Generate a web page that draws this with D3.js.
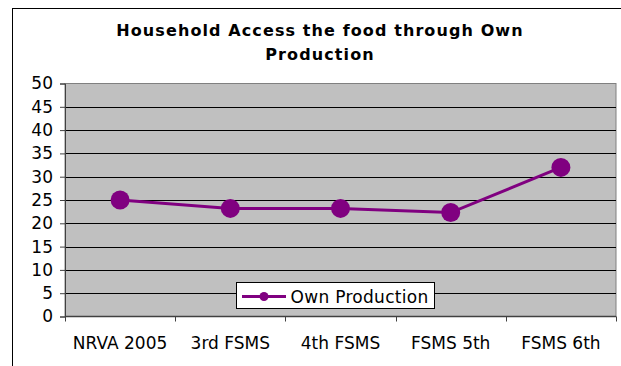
<!DOCTYPE html>
<html>
<head>
<meta charset="utf-8">
<script src="https://cdn.jsdelivr.net/npm/d3@7"></script>
<style>
  html, body { margin: 0; padding: 0; background: #fff; }
  svg { display: block; }
</style>
</head>
<body>
<svg id="chart" width="621" height="366"></svg>
<script>
// Survey rounds and share of households accessing food through own production
const categories = ["NRVA 2005", "3rd FSMS", "4th FSMS", "FSMS 5th", "FSMS 6th"];
const ownProduction = [25, 23.2, 23.2, 22.3, 32];
const yTicks = [0, 5, 10, 15, 20, 25, 30, 35, 40, 45, 50];
const titleLines = ["Household Access the food through Own", "Production"];
const seriesName = "Own Production";

const svg = d3.select("#chart");
const font = "Tahoma, 'DejaVu Sans', sans-serif";
const purple = "#800080";

// chart frame
svg.append("rect")
  .attr("x", 12.5).attr("y", 8.5)
  .attr("width", 640).attr("height", 400)
  .attr("fill", "#fff").attr("stroke", "#000").attr("stroke-width", 1);

const plot = { left: 65, right: 616, top: 83.5, bottom: 316.5 };

const x = d3.scaleBand().domain(categories).range([plot.left, plot.right]).padding(0);
const y = d3.scaleLinear().domain([0, 50]).range([plot.bottom, plot.top]);

// plot background
svg.append("rect")
  .attr("x", plot.left).attr("y", plot.top)
  .attr("width", plot.right - plot.left).attr("height", plot.bottom - plot.top)
  .attr("fill", "#c0c0c0").attr("stroke", "#808080").attr("stroke-width", 1);

// horizontal gridlines
svg.append("g").selectAll("line")
  .data(yTicks.filter(t => t > 0 && t < 50))
  .join("line")
  .attr("x1", plot.left).attr("x2", plot.right)
  .attr("y1", d => Math.round(y(d)) + 0.5).attr("y2", d => Math.round(y(d)) + 0.5)
  .attr("stroke", "#000").attr("stroke-width", 1);

// y axis
const yAxis = svg.append("g")
  .attr("transform", `translate(${plot.left},0)`)
  .call(d3.axisLeft(y).tickValues(yTicks).tickSize(5).tickPadding(7).tickFormat(d3.format("d")));
yAxis.select(".domain").attr("stroke", "#404040");
yAxis.selectAll(".tick line").attr("stroke", "#404040");
yAxis.selectAll("text")
  .attr("font-family", font).attr("font-size", 17).attr("fill", "#000");

// x axis with ticks at category boundaries
const xAxis = svg.append("g")
  .attr("transform", `translate(0,${plot.bottom})`);
xAxis.append("line")
  .attr("x1", plot.left).attr("x2", plot.right)
  .attr("stroke", "#404040").attr("stroke-width", 1.5);
const bounds = categories.map(c => x(c)).concat([x(categories[categories.length - 1]) + x.bandwidth()]);
xAxis.selectAll("line.tk").data(bounds).join("line")
  .attr("class", "tk")
  .attr("x1", d => Math.round(d) + 0.5).attr("x2", d => Math.round(d) + 0.5)
  .attr("y1", 0).attr("y2", 5)
  .attr("stroke", "#404040");
xAxis.selectAll("text").data(categories).join("text")
  .attr("x", d => x(d) + x.bandwidth() / 2)
  .attr("y", 32.5)
  .attr("text-anchor", "middle")
  .attr("font-family", font).attr("font-size", 17).attr("fill", "#000")
  .text(d => d);

// series line and markers
const pts = categories.map((c, i) => [x(c) + x.bandwidth() / 2, y(ownProduction[i])]);
svg.append("path")
  .attr("d", d3.line()(pts))
  .attr("fill", "none").attr("stroke", purple).attr("stroke-width", 3);
svg.append("g").selectAll("circle").data(pts).join("circle")
  .attr("cx", d => d[0]).attr("cy", d => d[1]).attr("r", 9.5)
  .attr("fill", purple);

// title
svg.append("g").selectAll("text").data(titleLines).join("text")
  .attr("x", 320).attr("y", (d, i) => 36 + i * 23.5)
  .attr("text-anchor", "middle")
  .attr("font-family", font).attr("font-size", 16).attr("font-weight", "bold")
  .attr("letter-spacing", 1.1)
  .attr("fill", "#000")
  .text(d => d);

// legend
const lg = svg.append("g");
lg.append("rect")
  .attr("x", 236.5).attr("y", 282.5).attr("width", 198).attr("height", 26)
  .attr("fill", "#fff").attr("stroke", "#000");
lg.append("line")
  .attr("x1", 242).attr("x2", 286).attr("y1", 296.5).attr("y2", 296.5)
  .attr("stroke", purple).attr("stroke-width", 3);
lg.append("circle").attr("cx", 264).attr("cy", 296.5).attr("r", 4.5).attr("fill", purple);
lg.append("text")
  .attr("x", 290.5).attr("y", 303)
  .attr("font-family", font).attr("font-size", 17).attr("letter-spacing", 0.3).attr("fill", "#000")
  .text(seriesName);
</script>
</body>
</html>
